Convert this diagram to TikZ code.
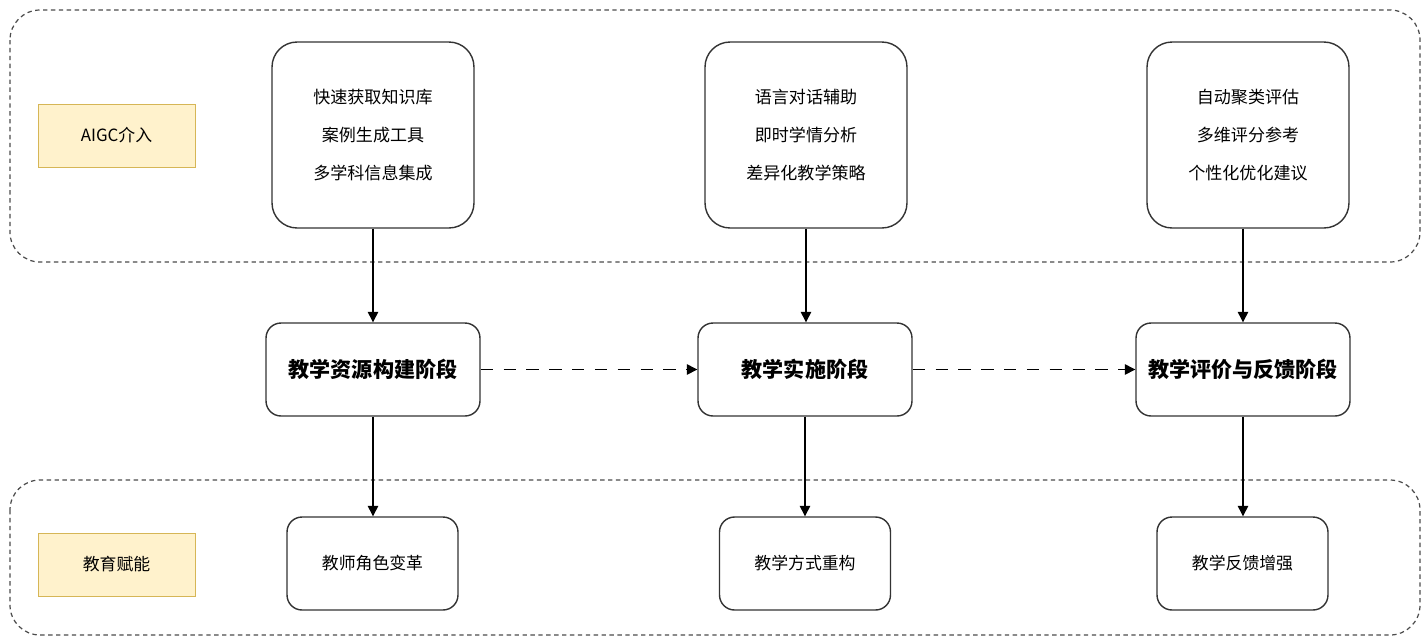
\documentclass[tikz,border=0pt]{standalone}
\usepackage{fontspec}
\setmainfont{Noto Sans CJK SC}
\usetikzlibrary{arrows.meta}

\definecolor{tagfill}{HTML}{FFF2CC}
\definecolor{tagline}{HTML}{D6B656}

\tikzset{
  zone/.style={draw=black!70, dash pattern=on 2.5pt off 2pt, line width=0.7pt, rounded corners=0.6cm},
  tag/.style={draw=tagline, fill=tagfill, minimum width=3.14cm, minimum height=1.26cm, font=\fontsize{9.6}{11}\selectfont},
  aibox/.style={draw=black!80, line width=0.8pt, rounded corners=0.5cm, minimum width=4.04cm, minimum height=3.72cm, align=center, font=\fontsize{9.7}{21.5}\selectfont},
  stagebox/.style={draw=black!80, line width=0.8pt, rounded corners=0.3cm, minimum width=4.28cm, minimum height=1.86cm, font=\fontsize{12}{14}\selectfont\bfseries},
  effbox/.style={draw=black!80, line width=0.8pt, rounded corners=0.3cm, minimum width=3.42cm, minimum height=1.86cm, font=\fontsize{9.6}{11}\selectfont},
  link/.style={-{Triangle[length=6pt,width=6pt]}, line width=0.7pt},
  flow/.style={link, dash pattern=on 7pt off 6pt}
}

\begin{document}
\begin{tikzpicture}[x=0.02cm, y=-0.02cm]
\useasboundingbox (0,0) rectangle (1428,637);

% dashed areas
\draw[zone] (10,10) rectangle (1420,262);
\draw[zone] (10,480) rectangle (1420,635);

% row tags
\node[tag] (tagAI) at (116.5,135.5) {AIGC介入};
\node[tag] (tagEdu) at (116.5,564.5) {教育赋能};

% AIGC boxes
\node[aibox] (ai1) at (373,135) {快速获取知识库\\案例生成工具\\多学科信息集成};
\node[aibox] (ai2) at (806,135) {语言对话辅助\\即时学情分析\\差异化教学策略};
\node[aibox] (ai3) at (1248,135) {自动聚类评估\\多维评分参考\\个性化优化建议};

% stages
\node[stagebox] (st1) at (373,369.5) {教学资源构建阶段};
\node[stagebox] (st2) at (805,369.5) {教学实施阶段};
\node[stagebox] (st3) at (1243,369.5) {教学评价与反馈阶段};

% effects
\node[effbox] (ef1) at (372.5,563.5) {教师角色变革};
\node[effbox] (ef2) at (805,563.5) {教学方式重构};
\node[effbox] (ef3) at (1242.5,563.5) {教学反馈增强};

\draw[link] (ai1.south) -- (ai1.south |- st1.north);
\draw[link] (ai2.south) -- (ai2.south |- st2.north);
\draw[link] (st3.north |- ai3.south) -- (st3.north);

\draw[link] (st1.south) -- (st1.south |- ef1.north);
\draw[link] (st2.south) -- (st2.south |- ef2.north);
\draw[link] (st3.south) -- (st3.south |- ef3.north);

\draw[flow] (st1) -- (st2);
\draw[flow] (st2) -- (st3);
\end{tikzpicture}
\end{document}
